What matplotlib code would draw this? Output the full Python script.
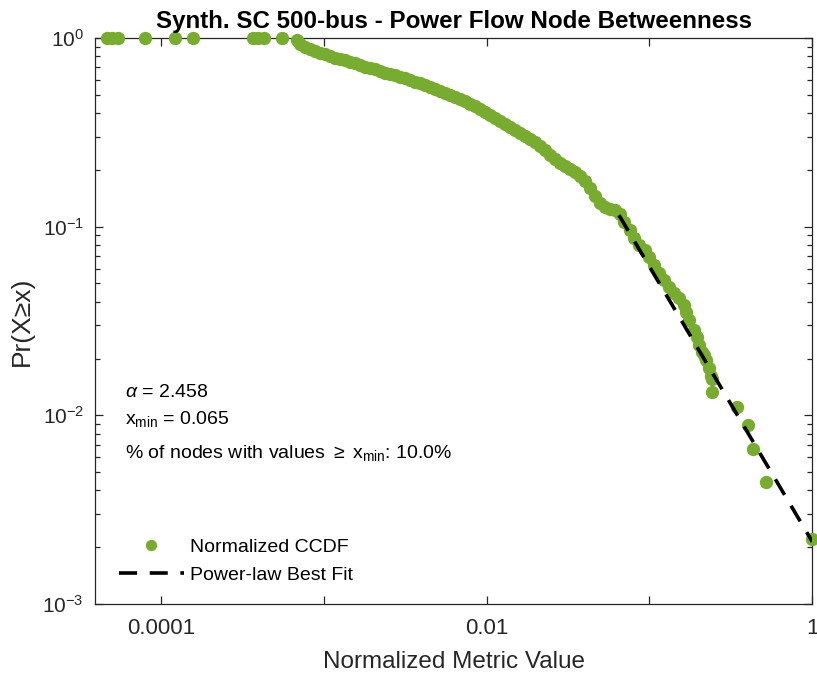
import numpy as np
import matplotlib
matplotlib.use('Agg')
import matplotlib.pyplot as plt
from matplotlib.ticker import FixedLocator, FixedFormatter, LogLocator, NullLocator

# Normalized CCDF of power-flow node betweenness (452 nodes)
n_nodes = 452
ccdf_x = [4.67e-5, 5.00e-5, 5.44e-5, 7.98e-5, 1.22e-4, 1.57e-4, 3.66e-4, 3.93e-4,
          4.28e-4, 5.52e-4, 6.83e-4,
          7.13e-4, 7.64e-4, 8.21e-4, 8.81e-4, 9.45e-4, 1.014e-3, 1.088e-3, 1.168e-3,
          1.253e-3, 1.345e-3, 1.443e-3, 1.550e-3, 1.663e-3, 1.784e-3, 1.915e-3, 2.055e-3,
          2.206e-3, 2.367e-3, 2.540e-3, 2.726e-3, 2.926e-3, 3.140e-3, 3.370e-3, 3.617e-3,
          3.882e-3, 4.165e-3, 4.470e-3, 4.797e-3, 5.149e-3, 5.525e-3, 5.93e-3, 6.36e-3,
          6.83e-3, 7.33e-3, 7.86e-3, 8.44e-3, 9.06e-3, 9.72e-3, 1.043e-2, 1.120e-2,
          1.202e-2, 1.290e-2, 1.384e-2, 1.486e-2, 1.594e-2, 1.711e-2, 1.836e-2, 1.970e-2,
          2.114e-2, 2.269e-2, 2.435e-2, 2.614e-2, 2.805e-2, 3.010e-2, 3.230e-2, 3.466e-2,
          3.720e-2, 3.992e-2, 4.284e-2, 4.598e-2, 4.934e-2, 5.295e-2, 5.683e-2, 6.099e-2,
          6.546e-2, 7.024e-2, 7.54e-2, 8.09e-2, 8.68e-2, 9.32e-2, 0.100, 0.1073,
          0.1151, 0.1236, 0.1326, 0.1423, 0.1528, 0.1639, 0.1686, 0.1759, 0.1888, 0.196,
          0.2026, 0.2114, 0.2175, 0.2238, 0.2334, 0.2401,
          0.2435, 0.2435, 0.3467, 0.405, 0.4345, 0.522, 1.0]
ccdf_y = [1.0, 1.0, 1.0, 1.0, 1.0, 1.0, 1.0, 1.0,
          1.0, 1.0, 0.98,
          0.929, 0.896, 0.874, 0.853, 0.833, 0.818, 0.803, 0.788,
          0.774, 0.760, 0.746, 0.733, 0.719, 0.706, 0.693, 0.681,
          0.668, 0.656, 0.645, 0.633, 0.621, 0.610, 0.599, 0.588,
          0.577, 0.563, 0.550, 0.537, 0.524, 0.511, 0.499, 0.487,
          0.475, 0.464, 0.447, 0.436, 0.420, 0.405, 0.391, 0.377,
          0.363, 0.350, 0.338, 0.326, 0.314, 0.302, 0.292, 0.281,
          0.268, 0.255, 0.240, 0.228, 0.218, 0.210, 0.202, 0.195,
          0.186, 0.175, 0.160, 0.145, 0.134, 0.127, 0.124, 0.123,
          0.117, 0.106, 0.0960, 0.0871, 0.0800, 0.0752, 0.0691, 0.0626,
          0.0568, 0.0522, 0.0479, 0.0445, 0.0419, 0.0385, 0.0353, 0.0320, 0.0284, 0.026,
          0.0236, 0.0217, 0.0209, 0.0197, 0.0178, 0.0162,
          7 / n_nodes, 6 / n_nodes, 5 / n_nodes, 4 / n_nodes, 3 / n_nodes, 2 / n_nodes,
          1 / n_nodes]

# power-law fit parameters
alpha = 2.458
xmin = 0.065
fit_at_xmin = 0.115
pct_tail = 10.0

plt.rcParams['font.family'] = ['Liberation Sans', 'DejaVu Sans']
plt.rcParams['mathtext.fontset'] = 'custom'
plt.rcParams['mathtext.rm'] = 'Liberation Sans'
plt.rcParams['mathtext.it'] = 'Liberation Sans:italic'
plt.rcParams['mathtext.bf'] = 'Liberation Sans:bold'

green = '#77ac30'
axcol = '#262626'

fig = plt.figure(figsize=(8.17, 6.76), dpi=100)
ax = fig.add_axes([0.1163, 0.1065, 0.878, 0.8373])

ax.plot(ccdf_x, ccdf_y, 'o', color=green, markersize=9.6, markeredgewidth=0,
        clip_on=False, zorder=3, label='Normalized CCDF')

fit_x = np.logspace(np.log10(xmin), 0, 50)
fit_y = fit_at_xmin * (fit_x / xmin) ** (1 - alpha)
ax.plot(fit_x, fit_y, color='black', linewidth=2.6, dashes=(5, 3.5),
        zorder=4, label='Power-law Best Fit')

ax.set_xscale('log')
ax.set_yscale('log')
ax.set_xlim(3.94e-5, 1)
ax.set_ylim(1e-3, 1)

ax.xaxis.set_major_locator(FixedLocator([1e-4, 1e-3, 1e-2, 1e-1, 1]))
ax.xaxis.set_major_formatter(FixedFormatter(['0.0001', '', '0.01', '', '1']))
ax.xaxis.set_minor_locator(NullLocator())
ax.yaxis.set_minor_locator(LogLocator(base=10, subs=np.arange(2, 10)))

ax.tick_params(which='both', direction='in', top=True, right=True,
               colors=axcol, labelcolor=axcol, width=0.9)
ax.tick_params(which='major', length=5.5)
ax.tick_params(which='minor', length=3.5)
ax.tick_params(axis='x', pad=10, labelsize=16)
ax.tick_params(axis='y', pad=8, labelsize=15)
for s in ax.spines.values():
    s.set_color(axcol)
    s.set_linewidth(0.9)

ax.set_title('Synth. SC 500-bus - Power Flow Node Betweenness',
             fontsize=17.4, fontweight='bold', color='black', pad=7)
ax.set_xlabel('Normalized Metric Value', fontsize=17.5, color=axcol, labelpad=9)
ax.set_ylabel('Pr(X\u2265x)', fontsize=19, color=axcol, labelpad=6)

ax.text(0.042, 0.365, r'$\alpha$ = %.3f' % alpha, transform=ax.transAxes,
        fontsize=14, color='black', va='baseline')
ax.text(0.042, 0.318, r'x$_{\rm min}$ = %.3f' % xmin, transform=ax.transAxes,
        fontsize=14, color='black', va='baseline')
ax.text(0.042, 0.258, r'%% of nodes with values $\geq$ x$_{\rm min}$: %.1f%%' % pct_tail,
        transform=ax.transAxes, fontsize=14, color='black', va='baseline')

ax.legend(loc='lower left', bbox_to_anchor=(0.033, 0.035), frameon=False,
          fontsize=14, handlelength=3.35, handletextpad=0.3, labelspacing=0.55,
          borderpad=0, borderaxespad=0, markerscale=0.85)

fig.savefig('out.png', dpi=100)
